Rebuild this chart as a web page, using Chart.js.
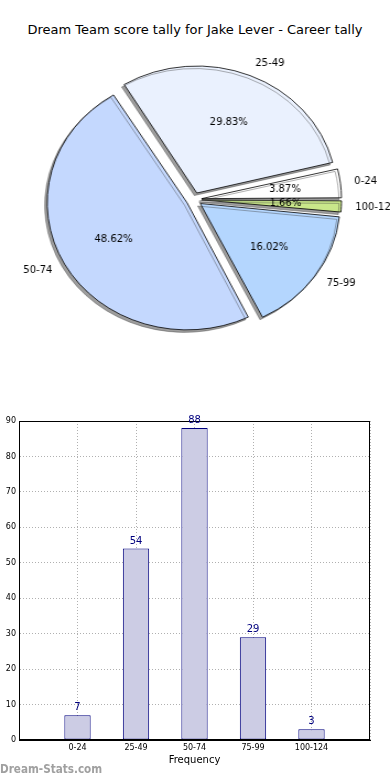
<!DOCTYPE html>
<html lang="en">
<head>
  <meta charset="UTF-8">
  <title>Dream Team score tally for Jake Lever - Career tally</title>
  <script src="https://cdn.jsdelivr.net/npm/chart.js"></script>
  <style>
    body { margin: 0; background: #fff; font-family: 'DejaVu Sans', sans-serif; }
    #page { position: relative; width: 390px; height: 780px; overflow: hidden; }
    #title { position: absolute; top: 22px; left: 0; width: 390px; text-align: center; font-size: 13px; color: #000; }
    #pieWrap { position: absolute; top: 0; left: 0; transform: scaleX(1.1017); transform-origin: 0 0; }
    #barWrap { position: absolute; top: 410px; left: 0; }
    #mark { position: absolute; left: 0; top: 762px; font-size: 12px; font-weight: bold; color: #a0a0a0; transform: scaleX(0.87); transform-origin: 0 0; white-space: nowrap; }
  </style>
</head>
<body>
<div id="page">
  <div id="title">Dream Team score tally for Jake Lever - Career tally</div>
  <div id="pieWrap"><canvas id="pieChart" width="354" height="390"></canvas></div>
  <div id="barWrap"><canvas id="barChart" width="390" height="370"></canvas></div>
  <div id="mark">Dream-Stats.com</div>
</div>

<script>
  // data
  const categories = ['0-24', '25-49', '50-74', '75-99', '100-124'];
  const pieLabels = ['0-24', '25-49', '50-74', '75-99', '100-124'];
  const counts = [7, 54, 88, 29, 3];
  const percents = ['3.87%', '29.83%', '48.62%', '16.02%', '1.66%'];
  const sliceColors = ['#ffffff', '#eaf1fe', '#c4d8fe', '#b4d6fe', '#c9e78a'];
  const yTicks = [0, 10, 20, 30, 40, 50, 60, 70, 80, 90];

  const PIE_R = 127;
  const EXPLODE = 28; // chart.js draws offset/4 px

  // matplotlib goes counter-clockwise from 3 o'clock, chart.js clockwise -> reverse
  const rev = a => a.slice().reverse();

  const pieShadow = {
    id: 'pieShadow',
    beforeDatasetsDraw(chart) {
      // keep every wedge the same radius (chart.js grows small wedges when offset)
      chart.getDatasetMeta(0).data.forEach(arc => {
        const circ = arc.endAngle - arc.startAngle;
        const fix = 1 - Math.sin(Math.min(Math.PI, circ));
        arc.outerRadius = PIE_R - (EXPLODE / 4) * fix;
      });
      const ctx = chart.ctx;
      ctx.save();
      ctx.shadowColor = 'rgba(60,60,60,0.5)';
      ctx.shadowOffsetX = -2.3;
      ctx.shadowOffsetY = 2.5;
      ctx.shadowBlur = 0.5;
    },
    afterDatasetsDraw(chart) {
      chart.ctx.restore();
    }
  };

  const pieLabelsPlugin = {
    id: 'pieLabels',
    afterDraw(chart) {
      const ctx = chart.ctx;
      const sx = 1.1017;
      const names = rev(pieLabels);
      const pcts = rev(percents);
      chart.getDatasetMeta(0).data.forEach((arc, i) => {
        const mid = (arc.startAngle + arc.endAngle) / 2;
        const cx = arc.x + Math.cos(mid) * EXPLODE / 4;
        const cy = arc.y + Math.sin(mid) * EXPLODE / 4;
        ctx.save();
        ctx.font = '10px "DejaVu Sans"';
        ctx.fillStyle = '#000';
        ctx.textBaseline = 'middle';
        // percent label
        let px = cx + Math.cos(mid) * PIE_R * 0.6;
        let py = cy + Math.sin(mid) * PIE_R * 0.6;
        ctx.translate(px, py);
        ctx.scale(1 / sx, 1);
        ctx.textAlign = 'center';
        ctx.fillText(pcts[i], 0, 0);
        ctx.restore();
        // category label
        ctx.save();
        ctx.font = '10px "DejaVu Sans"';
        ctx.fillStyle = '#000';
        ctx.textBaseline = 'middle';
        px = cx + Math.cos(mid) * PIE_R * 1.1;
        py = cy + Math.sin(mid) * PIE_R * 1.1;
        ctx.translate(px, py);
        ctx.scale(1 / sx, 1);
        ctx.textAlign = Math.cos(mid) >= 0 ? 'left' : 'right';
        ctx.fillText(names[i], 0, 0);
        ctx.restore();
      });
    }
  };

  new Chart(document.getElementById('pieChart'), {
    type: 'pie',
    data: {
      labels: rev(pieLabels),
      datasets: [{
        data: rev(counts),
        backgroundColor: rev(sliceColors),
        borderColor: '#000',
        borderWidth: 0.8,
        offset: EXPLODE
      }]
    },
    options: {
      responsive: false,
      animation: false,
      rotation: 90,
      radius: PIE_R,
      layout: { padding: { top: 9, bottom: 0, left: 0, right: 2 } },
      plugins: { legend: { display: false }, tooltip: { enabled: false } }
    },
    plugins: [pieShadow, pieLabelsPlugin]
  });

  const frame = {
    id: 'frame',
    afterDraw(chart) {
      const { ctx, chartArea: a } = chart;
      ctx.save();
      ctx.strokeStyle = '#000';
      ctx.lineWidth = 1;
      ctx.strokeRect(a.left + 0.5, a.top + 0.5, a.right - a.left - 1, a.bottom - a.top - 1);
      ctx.restore();
    }
  };

  const barValues = {
    id: 'barValues',
    afterDraw(chart) {
      const ctx = chart.ctx;
      ctx.save();
      ctx.font = '10px "DejaVu Sans"';
      ctx.fillStyle = '#00007f';
      ctx.textAlign = 'center';
      ctx.textBaseline = 'alphabetic';
      chart.getDatasetMeta(0).data.forEach((bar, i) => {
        ctx.fillText(String(counts[i]), bar.x, bar.y - 5);
      });
      ctx.restore();
    }
  };

  new Chart(document.getElementById('barChart'), {
    type: 'bar',
    data: {
      datasets: [{
        data: counts.map((v, i) => ({ x: i, y: v })),
        backgroundColor: '#ccccE4',
        borderColor: '#00007f',
        borderWidth: 1,
        borderSkipped: false,
        barPercentage: 0.45,
        categoryPercentage: 1
      }]
    },
    options: {
      responsive: false,
      animation: false,
      layout: { padding: { top: 11, right: 20, left: 0, bottom: 0 } },
      plugins: { legend: { display: false }, tooltip: { enabled: false } },
      scales: {
        x: {
          type: 'linear',
          min: -1,
          max: 5,
          offset: false,
          z: 1,
          afterFit(scale) { scale.height = 40; },
          afterBuildTicks(scale) {
            scale.ticks = [-1, 0, 1, 2, 3, 4, 5].map(v => ({ value: v }));
          },
          ticks: {
            autoSkip: false,
            maxRotation: 0,
            padding: 3,
            color: '#000',
            font: { family: 'DejaVu Sans', size: 8 },
            callback: v => categories[v] || ''
          },
          grid: { color: '#b0b0b0', drawTicks: false, offset: false },
          border: { color: '#000', width: 1, dash: [1, 2] },
          title: {
            display: true,
            text: 'Frequency',
            color: '#000',
            font: { family: 'DejaVu Sans', size: 10 },
            padding: { top: 0, bottom: 14 }
          }
        },
        y: {
          min: 0,
          max: 90,
          z: 1,
          afterFit(scale) { scale.width = 19; },
          afterBuildTicks(scale) {
            scale.ticks = yTicks.map(v => ({ value: v }));
          },
          ticks: {
            padding: 3,
            color: '#000',
            font: { family: 'DejaVu Sans', size: 8 }
          },
          grid: { color: '#b0b0b0', drawTicks: false },
          border: { color: '#000', width: 1, dash: [1, 2] }
        }
      }
    },
    plugins: [frame, barValues]
  });
</script>
</body>
</html>
